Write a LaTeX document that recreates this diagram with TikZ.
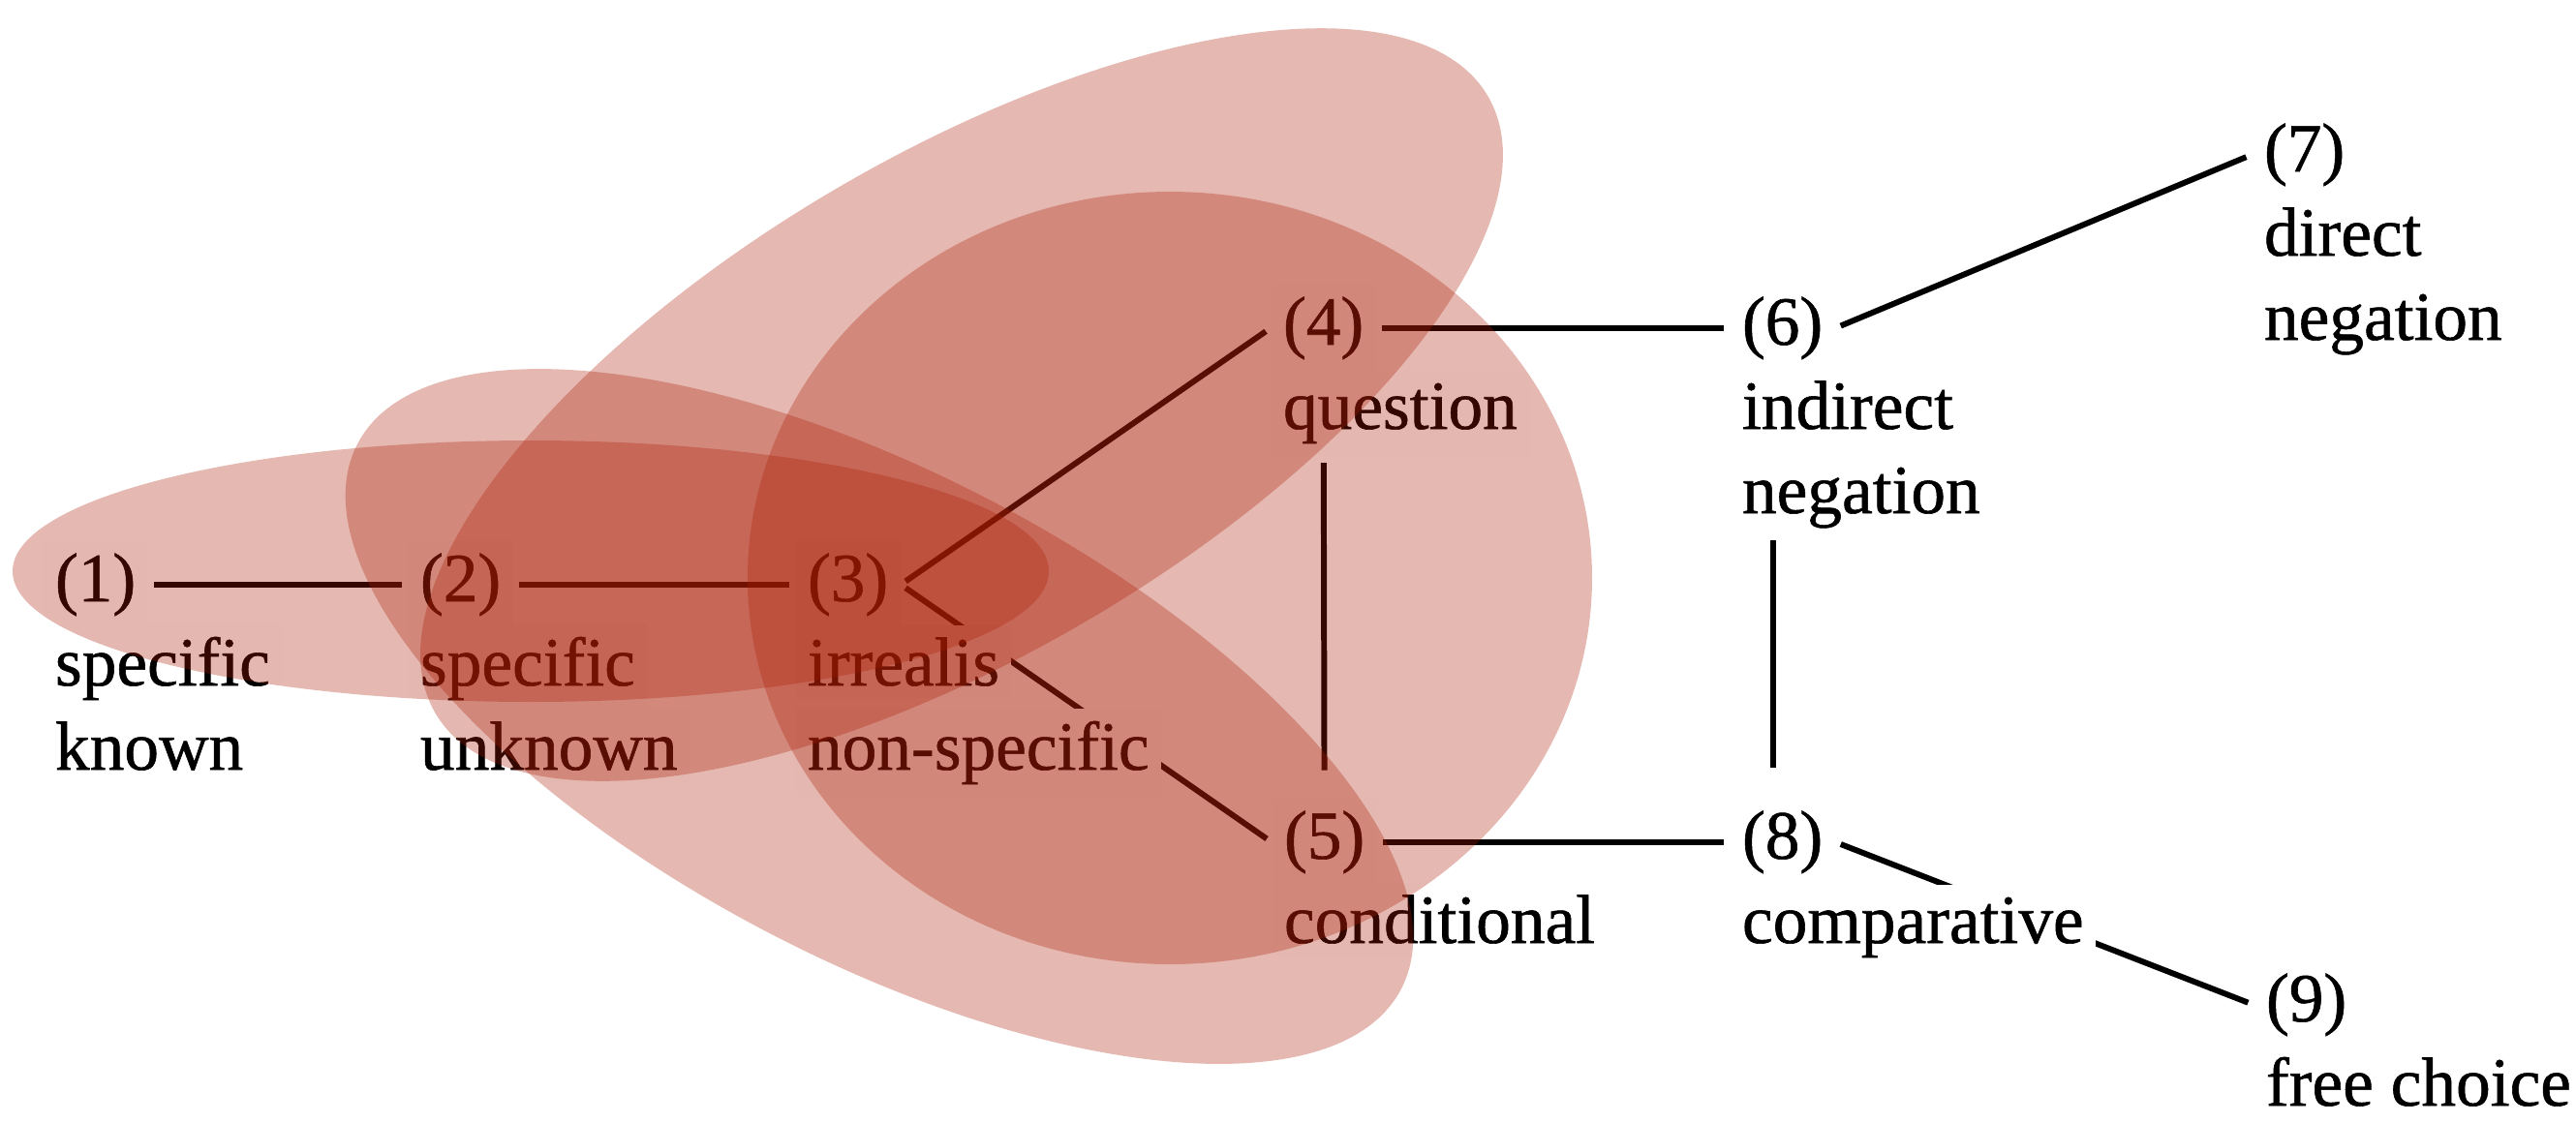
\documentclass[tikz,border=0pt]{standalone}
\usepackage{fontspec}
\setmainfont{Liberation Serif}
\newfontfamily\mapfont{Liberation Serif}[FakeBold=0.8]
\usetikzlibrary{positioning,backgrounds}
\definecolor{mapred}{RGB}{171,28,5}

\begin{document}
\begin{tikzpicture}[
    font=\mapfont\fontsize{20.3}{24}\selectfont,
    txt/.style={fill=white, inner sep=3.5pt, anchor=base west},
    under/.style={below=0.87cm of #1.base west, anchor=base west},
    link/.style={line width=1.7pt, shorten <=0.06cm, shorten >=0.06cm},
    zone/.style={fill=mapred, fill opacity=0.31}
  ]
    \useasboundingbox (0,0) rectangle (26.6,-11.59);
    \node[txt] (n1) at (0.44,-6.21) {(1)};
    \node[txt, under=n1] (n1a) {specific};
    \node[txt, under=n1a] (n1b) {known};
    \node[txt] (n2) at (4.21,-6.21) {(2)};
    \node[txt, under=n2] (n2a) {specific};
    \node[txt, under=n2a] (n2b) {unknown};
    \node[txt] (n3) at (8.21,-6.21) {(3)};
    \node[txt, under=n3] (n3a) {irrealis};
    \node[txt, under=n3a] (n3b) {non-specific};
    \node[txt] (n4) at (13.12,-3.56) {(4)};
    \node[txt, under=n4] (n4a) {question};
    \node[txt] (n5) at (13.13,-8.87) {(5)};
    \node[txt, under=n5] (n5a) {conditional};
    \node[txt] (n6) at (17.86,-3.56) {(6)};
    \node[txt, under=n6] (n6a) {indirect};
    \node[txt, under=n6a] (n6b) {negation};
    \node[txt] (n7) at (23.25,-1.77) {(7)};
    \node[txt, under=n7] (n7a) {direct};
    \node[txt, under=n7a] (n7b) {negation};
    \node[txt] (n8) at (17.86,-8.87) {(8)};
    \node[txt, under=n8] (n8a) {comparative};
    \node[txt] (n9) at (23.27,-10.55) {(9)};
    \node[txt, under=n9] (n9a) {free choice};
    \begin{scope}[on background layer]
      \foreach \a/\b in {n1/n2,n2/n3,n3/n4,n3/n5,n4/n6,n5/n8,n6/n7,n8/n9}
        \draw[link] (\a.east) -- (\b.west);
      \draw[link, shorten <=0.94cm, shorten >=0.29cm] (n4.south) -- (n5.north);
      \draw[link, shorten <=1.65cm, shorten >=0.32cm] ([xshift=-1mm]n6.south) -- ([xshift=-1mm]n8.north);
    \end{scope}
    % the four domains
    \fill[zone] (5.48,-5.90) ellipse [x radius=5.35, y radius=1.35];
    \fill[zone] (9.08,-7.40) ellipse [x radius=6.08, y radius=2.51, rotate=-27.6];
    \fill[zone] (9.93,-4.18) ellipse [x radius=6.30, y radius=2.58, rotate=30.4];
    \fill[zone] (12.08,-5.97) ellipse [x radius=4.36, y radius=3.99];
\end{tikzpicture}
\end{document}
